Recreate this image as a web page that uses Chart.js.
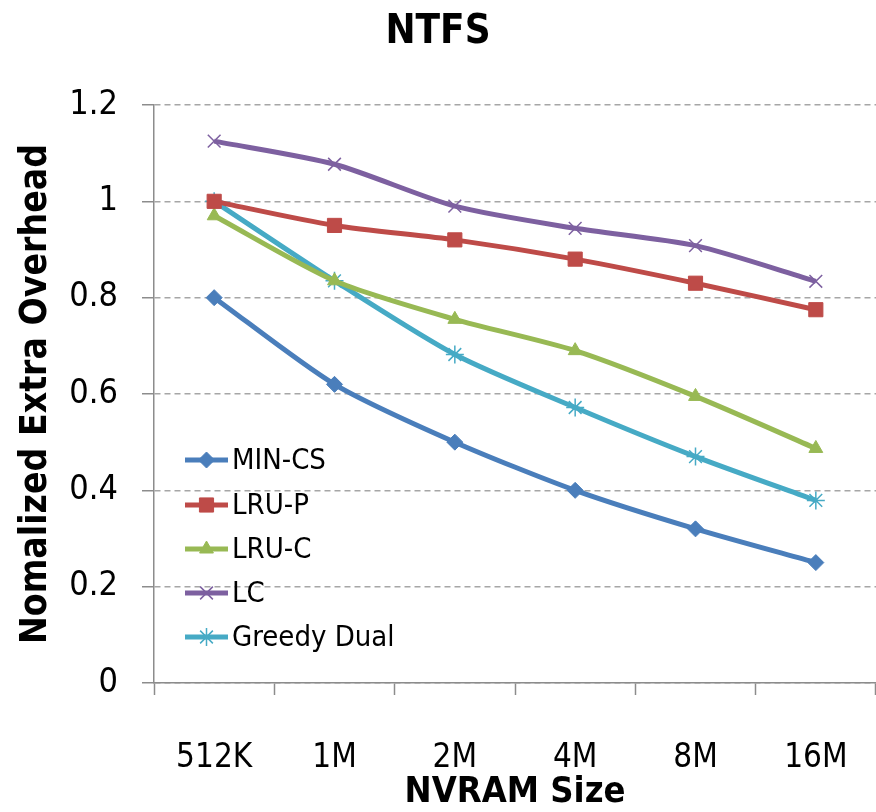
<!DOCTYPE html>
<html>
<head>
<meta charset="utf-8">
<script src="https://cdn.jsdelivr.net/npm/chart.js@4"></script>
<style>
  html, body { margin: 0; padding: 0; background: #fff; }
  #wrap { width: 876px; height: 812px; }
</style>
</head>
<body>
<div id="wrap"><canvas id="chart" width="876" height="812"></canvas></div>
<script>
// --- DATOS ---
const sizes = ['512K', '1M', '2M', '4M', '8M', '16M'];
const minCS = [0.80, 0.62, 0.50, 0.40, 0.32, 0.25];
const lruP = [1.00, 0.95, 0.92, 0.88, 0.83, 0.775];
const lruC = [0.97, 0.835, 0.755, 0.69, 0.595, 0.487];
const lc = [1.125, 1.077, 0.99, 0.944, 0.908, 0.834];
const greedyDual = [1.00, 0.835, 0.682, 0.572, 0.47, 0.379];
const yTicks = [0, 0.2, 0.4, 0.6, 0.8, 1, 1.2];

const FONT = '"Liberation Sans Narrow", "DejaVu Sans Condensed", "Arial Narrow", sans-serif';

function serie(label, data, color, style, radius, filled) {
    return {
        label: label,
        data: data,
        borderColor: color,
        backgroundColor: color,
        borderWidth: 5,
        tension: 0.25,
        pointStyle: style,
        pointRadius: radius,
        pointBackgroundColor: filled ? color : 'rgba(0,0,0,0)',
        pointBorderColor: color,
        pointBorderWidth: filled ? 1 : 1.5
    };
}

// leyenda dibujada dentro del area del grafico, abajo a la izquierda
const insideLegend = {
    id: 'insideLegend',
    afterDraw(chart) {
        const ctx = chart.ctx;
        const x0 = 185, x1 = 228, tx = 232;
        const ys = [460, 505, 549, 593, 637];
        ctx.save();
        chart.data.datasets.forEach((ds, i) => {
            const y = ys[i];
            ctx.strokeStyle = ds.borderColor;
            ctx.lineWidth = 5;
            ctx.beginPath();
            ctx.moveTo(x0, y);
            ctx.lineTo(x1, y);
            ctx.stroke();
            ctx.fillStyle = ds.pointBackgroundColor;
            ctx.strokeStyle = ds.pointBorderColor;
            ctx.lineWidth = ds.pointBorderWidth;
            Chart.helpers.drawPoint(ctx, {
                pointStyle: ds.pointStyle,
                radius: ds.pointRadius,
                rotation: 0,
                borderWidth: ds.pointBorderWidth
            }, (x0 + x1) / 2, y);
            ctx.fillStyle = '#000';
            ctx.font = '29px ' + FONT;
            ctx.textBaseline = 'middle';
            ctx.textAlign = 'left';
            ctx.fillText(ds.label, tx, y + 1);
        });
        ctx.restore();
    }
};

const ctx = document.getElementById('chart').getContext('2d');
new Chart(ctx, {
    type: 'line',
    data: {
        labels: sizes,
        datasets: [
            serie('MIN-CS', minCS, '#4a7ebb', 'rectRot', 8, true),
            serie('LRU-P', lruP, '#be4b48', 'rect', 10, true),
            serie('LRU-C', lruC, '#98b954', 'triangle', 8, true),
            serie('LC', lc, '#7d60a0', 'crossRot', 9, false),
            serie('Greedy Dual', greedyDual, '#46aac5', 'star', 9, false)
        ]
    },
    options: {
        responsive: false,
        animation: false,
        layout: { autoPadding: false, padding: { left: 0, right: 0, top: 0, bottom: 0 } },
        plugins: {
            legend: { display: false },
            tooltip: { enabled: false },
            title: {
                display: true,
                text: 'NTFS',
                color: '#000',
                font: { family: FONT, size: 40, weight: 'bold' },
                padding: { top: 9, bottom: 48 }
            }
        },
        scales: {
            x: {
                offset: true,
                grid: {
                    offset: true,
                    drawOnChartArea: false,
                    drawTicks: true,
                    tickLength: 12,
                    tickColor: '#8c8c8c',
                    tickWidth: 1.5
                },
                border: { display: true, color: '#8c8c8c', width: 1.5 },
                ticks: {
                    color: '#000',
                    padding: 44,
                    font: { family: FONT, size: 33 },
                    maxRotation: 0
                },
                title: {
                    display: true,
                    text: 'NVRAM Size',
                    color: '#000',
                    font: { family: FONT, size: 36, weight: 'bold' },
                    padding: { top: 0, bottom: -2 }
                },
                afterFit: s => {
                    s.height = 129;
                    s.paddingLeft = 0;
                    s.paddingRight = 0;
                }
            },
            y: {
                min: 0,
                max: 1.2,
                afterBuildTicks: s => { s.ticks = yTicks.map(v => ({ value: v })); },
                grid: {
                    color: '#a6a6a6',
                    lineWidth: 1.5,
                    drawTicks: true,
                    tickLength: 12,
                    tickColor: '#8c8c8c',
                    tickWidth: 1.5,
                    tickBorderDash: []
                },
                border: { display: true, color: '#8c8c8c', width: 1.5, dash: [6, 4] },
                ticks: {
                    color: '#000',
                    padding: 24,
                    font: { family: FONT, size: 34 },
                    callback: v => String(Math.round(v * 10) / 10)
                },
                title: {
                    display: true,
                    text: 'Nomalized Extra Overhead',
                    color: '#000',
                    font: { family: FONT, size: 37, weight: 'bold' },
                    padding: { top: 14, bottom: 0 }
                },
                afterFit: s => { s.width = 154; }
            }
        }
    },
    plugins: [insideLegend]
});
</script>
</body>
</html>
